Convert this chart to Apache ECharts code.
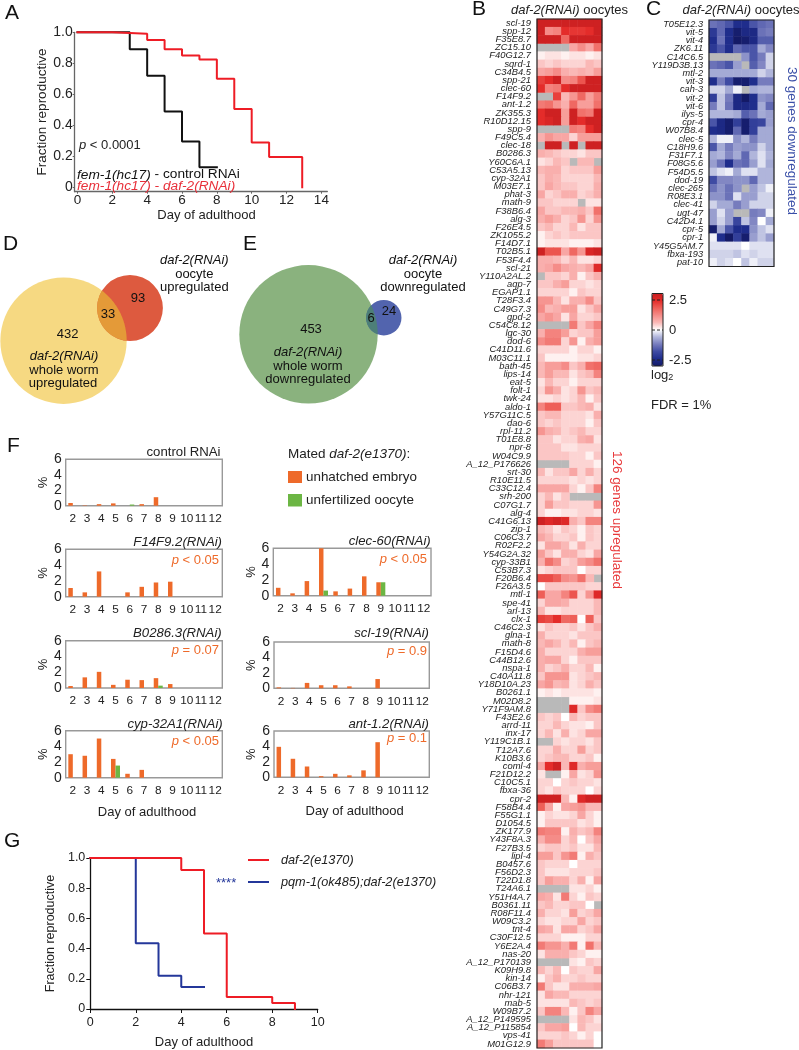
<!DOCTYPE html>
<html><head><meta charset="utf-8">
<style>html,body{margin:0;padding:0;background:#fff}#c{width:799px;height:1050px}</style>
<script src="https://cdn.jsdelivr.net/npm/echarts@6/dist/echarts.min.js"></script>
</head><body><div id="c"></div>
<script>
const n = null;
// ---------- Panel A ----------
const aControlDay = [0, 2, 3, 4, 5, 6, 7, 8];
const aControlFrac = [1, 1, 0.89, 0.72, 0.49, 0.295, 0.13, 0.13];
const aDaf2Day = [0, 2, 4, 5, 6, 7, 8, 9, 10, 11, 12.9];
const aDaf2Frac = [1, 0.99, 0.95, 0.89, 0.85, 0.825, 0.70, 0.505, 0.29, 0.195, 0];
// ---------- Panel G ----------
const gDaf2Day = [0, 4, 5, 6, 8, 9];
const gDaf2Frac = [1, 0.92, 0.50, 0.08, 0.04, 0];
const gPqmDay = [0, 2, 3, 4, 5];
const gPqmFrac = [1, 0.435, 0.22, 0.145, 0.145];
// ---------- Panels D, E (gene counts) ----------
const vennD = { wholeOnly: 432, both: 33, oocyteOnly: 93 };
const vennE = { wholeOnly: 453, both: 6, oocyteOnly: 24 };
// ---------- Panel F ----------
const fDays = ['2','3','4','5','6','7','8','9','10','11','12'];
const fControlEmbryo = [0.35,0.05,0.2,0.3,0,0.2,1.1,0,0,0,0];
const fControlOocyte = [0,0,0,0,0.15,0,0,0,0,0,0];
const fF14Embryo = [1.1,0.55,3.2,0,0.55,1.25,1.8,1.9,0,0,0];
const fF14Oocyte = [0,0,0,0,0,0,0,0,0,0,0];
const fClecEmbryo = [1.0,0.3,1.85,6,0.55,0.9,2.45,1.7,0,0,0];
const fClecOocyte = [0,0,0,0.65,0,0,0,1.7,0,0,0];
const fB0286Embryo = [0.25,1.35,2.05,0.4,1.05,1.0,1.25,0.5,0,0,0];
const fB0286Oocyte = [0,0,0,0,0,0,0.3,0,0,0,0];
const fSclEmbryo = [0.12,0.05,0.7,0.4,0.4,0.25,0,1.2,0,0,0];
const fSclOocyte = [0,0,0,0,0,0,0,0,0,0,0];
const fCypEmbryo = [3.0,2.8,5.0,2.4,0.5,1.0,0,0,0,0,0];
const fCypOocyte = [0,0,0,1.55,0,0,0,0,0,0,0];
const fAntEmbryo = [3.95,2.4,1.4,0.15,0.45,0.25,0.9,4.55,0,0,0];
const fAntOocyte = [0,0,0,0,0,0,0,0,0,0,0];
// ---------- Panel B ----------
const genesB = ['scl-19','spp-12','F35E8.7','ZC15.10','F40G12.7','sqrd-1','C34B4.5','spp-21','clec-60','F14F9.2','ant-1.2','ZK355.3','R10D12.15','spp-9','F49C5.4','clec-18','B0286.3','Y60C6A.1','C53A5.13','cyp-32A1','M03E7.1','phat-3','math-9','F38B6.4','alg-3','F26E4.5','ZK1055.2','F14D7.1','T02B5.1','F53F4.4','scl-21','Y110A2AL.2','aqp-7','EGAP1.1','T28F3.4','C49G7.3','gpd-2','C54C8.12','lgc-30','dod-6','C41D11.6','M03C11.1','bath-45','lips-14','eat-5','folt-1','twk-24','aldo-1','Y57G11C.5','dao-6','rpl-11.2','T01E8.8','npr-8','W04C9.9','A_12_P176626','srt-30','R10E11.5','C33C12.4','srh-200','C07G1.7','alg-4','C41G6.13','zip-1','C06C3.7','R02F2.2','Y54G2A.32','cyp-33B1','C53B7.3','F20B6.4','F26A3.5','mtl-1','spe-41','arl-13','clx-1','C46C2.3','glna-1','math-8','F15D4.6','C44B12.6','nspa-1','C40A11.8','Y18D10A.23','B0261.1','M02D8.2','Y71F9AM.8','F43E2.6','arrd-11','inx-17','Y119C1B.1','T12A7.6','K10B3.6','coml-4','F21D12.2','C10C5.1','fbxa-36','cpr-2','F58B4.4','F55G1.1','D1054.5','ZK177.9','Y43F8A.3','F27B3.5','lipl-4','B0457.6','F56D2.3','T22D1.8','T24A6.1','Y51H4A.7','B0361.11','R08F11.4','W09C3.2','tnt-4','C30F12.5','Y6E2A.4','nas-20','A_12_P170139','K09H9.8','kin-14','C06B3.7','nhr-121','mab-5','W09B7.2','A_12_P149595','A_12_P115854','vps-41','M01G12.9'];
// log2 ratio x 10, one row per gene, n = no data (grey)
const heatB = [
[24,24,24,24,24,24,24,24],[24,10,11,20,19,19,20,24],[24,24,24,14,24,24,24,24],[n,n,n,n,7,10,7,13],
[1,2,2,1,2,2,1,2],[4,3,4,3,3,3,5,4],[7,8,10,6,5,6,5,8],[18,20,24,10,11,16,24,24],
[20,11,12,20,24,24,24,24],[n,n,18,5,9,14,8,12],[12,13,9,6,14,8,8,13],[20,24,24,8,24,13,12,24],
[20,22,24,8,24,20,24,24],[n,n,n,n,12,11,20,24],[6,9,7,7,3,8,8,8],[n,24,24,n,24,n,24,24],
[6,5,4,3,3,2,4,4],[2,3,5,4,n,5,5,n],[5,6,6,3,4,4,4,8],[4,6,5,3,3,3,3,5],
[4,7,5,4,4,3,3,6],[7,3,4,6,6,3,4,6],[4,4,3,3,3,n,2,2],[7,4,4,5,5,6,4,13],
[6,8,6,3,4,9,3,9],[4,5,3,3,5,2,4,4],[1,3,4,3,4,4,4,4],[1,2,2,2,1,1,1,2],
[24,16,16,7,14,9,22,24],[6,6,5,3,5,2,2,3],[6,7,10,7,6,5,7,21],[n,4,4,3,6,1,4,6],
[4,4,6,8,3,3,2,3],[3,3,3,3,1,4,3,3],[9,9,5,2,6,6,10,4],[10,5,6,8,8,2,4,7],
[7,9,7,2,7,3,3,4],[n,n,n,n,12,4,7,11],[6,11,11,8,3,4,4,8],[10,12,12,3,9,1,6,8],
[3,3,3,3,1,3,3,1],[4,1,1,1,1,2,2,3],[5,8,8,10,4,6,13,14],[5,8,5,5,2,4,5,11],
[2,5,3,3,1,3,3,3],[3,9,6,2,3,9,4,5],[2,2,3,2,3,5,1,4],[11,15,15,4,4,5,6,2],
[4,5,5,3,3,3,2,6],[4,3,4,3,3,3,1,4],[9,6,5,3,4,5,3,3],[4,4,2,3,3,6,7,2],
[4,4,4,2,2,3,3,3],[4,4,4,4,3,3,1,4],[n,n,n,n,3,3,3,1],[5,2,4,4,7,3,6,3],
[3,3,3,3,2,3,2,3],[7,7,7,7,3,1,4,11],[3,5,2,4,n,n,n,n],[3,8,4,4,3,3,3,9],
[3,1,1,2,2,3,3,2],[24,21,23,21,6,4,11,11],[5,4,2,4,3,1,4,3],[7,5,3,3,4,1,4,3],
[2,7,7,5,2,6,3,3],[8,4,2,6,6,3,2,7],[6,13,10,3,4,8,10,13],[2,3,4,4,4,0,3,3],
[17,17,15,10,9,13,5,n],[0,4,4,4,4,4,3,3],[15,7,7,11,16,3,9,21],[3,7,7,6,3,3,3,5],
[5,2,2,3,3,3,3,5],[18,17,20,14,15,0,15,4],[2,4,3,3,4,2,4,6],[6,3,3,3,2,4,4,4],
[5,7,5,3,5,1,4,5],[6,3,3,3,3,6,8,8],[6,7,7,3,1,4,4,4],[6,3,4,6,3,3,5,1],
[4,9,9,9,2,3,4,5],[7,9,5,6,2,3,6,4],[1,2,1,2,2,2,2,1],[n,n,n,n,1,1,1,2],
[n,n,n,n,21,4,10,12],[4,3,4,0,5,3,4,4],[3,3,5,3,2,2,1,4],[3,5,2,6,2,3,7,7],
[n,n,3,2,3,3,2,4],[3,3,6,3,3,8,3,4],[3,4,5,5,3,3,4,1],[7,20,24,5,21,6,8,8],
[2,n,n,1,7,2,3,9],[3,3,0,3,4,3,3,2],[3,2,4,3,3,3,0,3],[24,24,24,5,1,21,24,24],
[15,7,1,7,8,9,5,5],[1,3,2,2,3,7,3,1],[1,4,4,4,4,2,3,1],[12,11,11,1,6,4,5,11],
[6,10,10,3,5,0,4,7],[3,4,4,3,4,2,2,5],[8,8,4,9,12,1,6,4],[4,3,3,3,0,3,3,3],
[4,2,2,2,3,3,3,4],[4,8,6,6,3,6,1,7],[n,n,n,n,2,2,3,1],[7,6,2,12,3,1,4,3],
[4,5,3,3,4,4,0,n],[6,3,3,2,8,3,4,7],[3,2,2,3,3,7,3,4],[7,6,2,7,7,3,4,7],
[3,3,3,1,1,1,3,3],[12,9,9,6,12,1,13,5],[2,6,6,6,4,3,1,1],[n,n,n,n,2,1,4,3],
[5,3,5,0,4,3,3,7],[1,4,6,3,3,4,3,3],[12,4,2,2,6,6,6,7],[2,7,5,5,3,3,3,3],
[2,2,2,2,5,4,3,4],[4,11,11,5,1,4,11,7],[n,n,n,n,2,5,4,2],[4,7,7,8,0,5,3,3],
[3,3,3,4,3,1,3,0],[12,8,4,4,4,4,4,0]
];
// ---------- Panel C ----------
const genesC = ['T05E12.3','vit-5','vit-4','ZK6.11','C14C6.5','Y119D3B.13','mtl-2','vit-3','cah-3','vit-2','vit-6','ilys-5','cpr-4','W07B8.4','clec-5','C18H9.6','F31F7.1','F08G5.6','F54D5.5','dod-19','clec-265','R08E3.1','clec-41','ugt-47','C42D4.1','cpr-5','cpr-1','Y45G5AM.7','fbxa-193','pat-10'];
// -log2 ratio x 10
const heatC = [
[11,12,14,20,20,14,12,11],[18,12,20,24,21,21,11,10],[20,11,20,25,24,21,13,13],[18,14,20,12,14,14,6,9],
[n,n,n,n,8,14,10,3],[11,12,14,7,n,13,9,3],[6,6,6,6,6,6,3,5],[20,10,15,24,24,20,10,10],
[3,3,6,1,n,6,5,5],[17,4,10,21,25,20,8,9],[10,4,11,21,21,20,6,12],[5,5,5,6,13,11,6,7],
[14,21,24,17,24,17,16,7],[20,21,24,12,24,17,6,6],[5,1,1,8,5,10,6,6],[14,6,10,7,8,8,3,6],
[6,5,9,6,12,5,2,5],[7,11,20,11,12,7,2,6],[4,2,1,6,2,2,5,5],[15,9,9,8,8,12,5,5],
[11,8,11,8,n,7,4,1],[8,8,11,2,7,7,3,3],[3,6,6,10,7,3,3,3],[7,2,7,n,n,10,9,1],
[7,3,7,16,4,9,0,6],[24,6,14,20,20,8,4,2],[1,20,25,17,24,7,4,7],[2,2,2,2,0,2,2,2],
[3,3,3,4,2,3,2,2],[1,3,2,0,4,1,3,3]
];
const heatColumns = ['1','2','3','4','5','6','7','8'];

const FONT = '"Liberation Sans", Arial, sans-serif';
const INK = '#222';
const ORANGE = '#ee6a2a', GREEN = '#6cb644', RED = '#ee1c25', NAVY = '#24379a';
const grid = [], xAxis = [], yAxis = [], series = [], graphic = [];

function T(x, y, text, o) {
  o = o || {};
  const size = o.size || 13;
  const base = (o.italic ? 'italic ' : '') + size + 'px ' + FONT;
  const style = { text, fill: o.color || INK, font: base,
    textAlign: o.align || 'left', align: o.align || 'left', textVerticalAlign: 'middle', verticalAlign: 'middle' };
  style.rich = { i: { fontStyle: 'italic', fontSize: size, fontFamily: FONT, fill: o.color || INK, textFill: o.color || INK },
    s: { fontSize: 9, fontFamily: FONT, fill: INK, verticalAlign: 'bottom', padding: [6, 0, 0, 0] } };
  graphic.push({ type: 'text', x, y, rotation: o.rot || 0, z: 50, silent: true, style });
}
function addGrid(left, top, right, bottom, x, y, extra) {
  grid.push(Object.assign({ left, top, width: right - left, height: bottom - top, containLabel: false }, extra || {}));
  xAxis.push(Object.assign({ gridIndex: grid.length - 1 }, x));
  yAxis.push(Object.assign({ gridIndex: grid.length - 1 }, y));
  return grid.length - 1;
}
function zip(a, b) { return a.map((v, i) => [v, b[i]]); }
function stepLine(gi, name, days, frac, color, w) {
  series.push({ type: 'line', name, xAxisIndex: gi, yAxisIndex: gi, data: zip(days, frac), step: 'end',
    symbol: 'none', clip: false, lineStyle: { color, width: w || 2, cap: 'square' } });
}

// ---- heatmaps -----
function addHeat(left, top, right, bottom, labels, rows, sign, labelSize, margin) {
  const gi = addGrid(left, top, right, bottom,
    { type: 'category', data: heatColumns, show: false },
    { type: 'category', data: labels, inverse: true,
      axisLine: { show: false }, axisTick: { show: false },
      axisLabel: { interval: 0, fontSize: labelSize, fontStyle: 'italic', fontFamily: FONT, color: INK, margin } });
  const vals = [], miss = [];
  rows.forEach((r, yi) => r.forEach((v, xi) => {
    if (v === null) miss.push([xi, yi, 0]); else vals.push([xi, yi, sign * v / 10]);
  }));
  series.push({ type: 'heatmap', name: 'missing', xAxisIndex: gi, yAxisIndex: gi, data: miss, itemStyle: { color: '#b9b9b9' } });
  series.push({ type: 'heatmap', name: 'log2', xAxisIndex: gi, yAxisIndex: gi, data: vals });
  graphic.push({ type: 'rect', z: 40, silent: true, shape: { x: left, y: top, width: right - left, height: bottom - top },
    style: { fill: 'none', stroke: '#222', lineWidth: 1.2 } });
  return series.length - 1;
}
const sB = addHeat(537, 19, 602, 1048, genesB, heatB, 1, 9.4, 6);
const sC = addHeat(709, 20, 774, 266.5, genesC, heatC, -1, 9.2, 6);

// ---- A -----
const gA = addGrid(74.7, 32.3, 327.3, 191.7,
  { type: 'value', min: -0.16, max: 14.34, splitLine: { show: false },
    axisLine: { onZero: false, lineStyle: { color: '#666', width: 1.3 } },
    axisTick: { length: 2, lineStyle: { color: '#666' }, customValues: [0,2,4,6,8,10,12,14] },
    axisLabel: { customValues: [0,2,4,6,8,10,12,14], fontSize: 13.5, color: INK, fontFamily: FONT, margin: 2 },
    name: 'Day of adulthood', nameLocation: 'middle', nameGap: 14,
    nameTextStyle: { fontSize: 13, color: INK, fontFamily: FONT, padding: [0, 0, 0, 11] } },
  { type: 'value', min: -0.028, max: 1, splitLine: { show: false },
    axisLine: { show: true, onZero: false, lineStyle: { color: '#666', width: 1.3 } },
    axisTick: { length: 2, lineStyle: { color: '#666' }, customValues: [0,0.2,0.4,0.6,0.8,1] },
    axisLabel: { customValues: [0,0.2,0.4,0.6,0.8,1], fontSize: 14, color: INK, fontFamily: FONT, margin: 2,
      formatter: v => v === 0 ? '0' : v.toFixed(1) },
    name: 'Fraction reproductive', nameLocation: 'middle', nameGap: 21,
    nameTextStyle: { fontSize: 13.5, color: INK, fontFamily: FONT } });
stepLine(gA, 'fem-1(hc17) - control RNAi', aControlDay, aControlFrac, '#111');
stepLine(gA, 'fem-1(hc17) - daf-2(RNAi)', aDaf2Day, aDaf2Frac, RED);

// ---- G -----
const gG = addGrid(90.3, 858, 317.7, 1009,
  { type: 'value', min: 0, max: 10, interval: 2, splitLine: { show: false },
    axisLine: { lineStyle: { color: '#111', width: 1.3 } },
    axisTick: { length: 4, lineStyle: { color: '#111' } },
    axisLabel: { fontSize: 12.5, color: INK, fontFamily: FONT, margin: 7 },
    name: 'Day of adulthood', nameLocation: 'middle', nameGap: 27,
    nameTextStyle: { fontSize: 13, color: INK, fontFamily: FONT } },
  { type: 'value', min: 0, max: 1, interval: 0.2, splitLine: { show: false },
    axisLine: { show: true, lineStyle: { color: '#111', width: 1.3 } },
    axisTick: { length: 4, lineStyle: { color: '#111' } },
    axisLabel: { fontSize: 12.5, color: INK, fontFamily: FONT, margin: 5,
      formatter: v => v === 0 ? '0' : v.toFixed(1) },
    name: 'Fraction reproductive', nameLocation: 'middle', nameGap: 33,
    nameTextStyle: { fontSize: 12.5, color: INK, fontFamily: FONT } });
stepLine(gG, 'pqm-1(ok485);daf-2(e1370)', gPqmDay, gPqmFrac, NAVY);
stepLine(gG, 'daf-2(e1370)', gDaf2Day, gDaf2Frac, RED);

// ---- F -----
function addBars(left, top, right, bottom, embryo, oocyte, bottomRow, nameGapY) {
  const gi = addGrid(left, top, right, bottom,
    Object.assign({ type: 'category', data: fDays, axisLine: { show: false }, axisTick: { show: false },
      axisLabel: { interval: 0, fontSize: 11.8, color: INK, fontFamily: FONT, margin: 7 } },
      bottomRow ? { name: 'Day of adulthood', nameLocation: 'middle', nameGap: 28,
        nameTextStyle: { fontSize: 13, color: INK, fontFamily: FONT, padding: [0, 0, 0, 6] } } : {}),
    { type: 'value', min: 0, max: 6, interval: 2, splitLine: { show: false },
      axisLine: { show: false }, axisTick: { show: false },
      axisLabel: { fontSize: 14, color: INK, fontFamily: FONT, margin: 4 },
      name: '%', nameLocation: 'middle', nameGap: nameGapY, nameRotate: 90,
      nameTextStyle: { fontSize: 13, color: INK, fontFamily: FONT } },
    { show: true, borderColor: '#999', borderWidth: 1.4 });
  series.push({ type: 'bar', name: 'unhatched embryo', xAxisIndex: gi, yAxisIndex: gi, data: embryo,
    barWidth: 4.5, barGap: 0, itemStyle: { color: ORANGE } });
  series.push({ type: 'bar', name: 'unfertilized oocyte', xAxisIndex: gi, yAxisIndex: gi, data: oocyte,
    barWidth: 4.5, barGap: 0, itemStyle: { color: GREEN } });
}
addBars(65.7, 459.3, 222.3, 505.7, fControlEmbryo, fControlOocyte, false, 16);
addBars(65.7, 549.3, 222.3, 596.7, fF14Embryo, fF14Oocyte, false, 16);
addBars(273.3, 548.3, 431, 595.7, fClecEmbryo, fClecOocyte, false, 15);
addBars(65.7, 640.7, 222.3, 688, fB0286Embryo, fB0286Oocyte, false, 16);
addBars(274, 642, 429.3, 688.3, fSclEmbryo, fSclOocyte, false, 16);
addBars(65.7, 730.7, 222.3, 777.7, fCypEmbryo, fCypOocyte, true, 16);
addBars(274, 731, 429.3, 777.3, fAntEmbryo, fAntOocyte, true, 16);

// ---- Venn D, E: circle area follows gene count -----
function lens(a, b) {
  const dx = b.x - a.x, dy = b.y - a.y, d = Math.hypot(dx, dy), th = Math.atan2(dy, dx);
  const a1 = Math.acos((d * d + a.r * a.r - b.r * b.r) / (2 * d * a.r));
  const a2 = Math.acos((d * d + b.r * b.r - a.r * a.r) / (2 * d * b.r));
  const pts = [], N = 40;
  for (let i = 0; i <= N; i++) { const t = th - a1 + 2 * a1 * i / N; pts.push([a.x + a.r * Math.cos(t), a.y + a.r * Math.sin(t)]); }
  for (let i = 0; i <= N; i++) { const t = th + Math.PI - a2 + 2 * a2 * i / N; pts.push([b.x + b.r * Math.cos(t), b.y + b.r * Math.sin(t)]); }
  return pts;
}
function venn(counts, k, posA, posB, colA, colB, colAB) {
  const A = { x: posA[0], y: posA[1], r: k * Math.sqrt(counts.wholeOnly + counts.both) };
  const B = { x: posB[0], y: posB[1], r: k * Math.sqrt(counts.oocyteOnly + counts.both) };
  series.push({ type: 'custom', coordinateSystem: 'none', silent: true, data: [[counts.wholeOnly, counts.both, counts.oocyteOnly]],
    renderItem: () => ({ type: 'group', children: [
      { type: 'circle', shape: { cx: A.x, cy: A.y, r: A.r }, style: { fill: colA } },
      { type: 'circle', shape: { cx: B.x, cy: B.y, r: B.r }, style: { fill: colB } },
      { type: 'polygon', shape: { points: lens(A, B) }, style: { fill: colAB } } ] }) });
}
venn(vennD, 2.93, [63.5, 340.7], [130, 308], '#f6d982', '#dd5a3f', '#e49a38');
venn(vennE, 3.23, [308.5, 334.3], [383.8, 317.7], '#8ab27e', '#5264ae', '#4d7f78');

T(67.7, 334, String(vennD.wholeOnly), { align: 'center', color: '#111' });
T(108, 314, String(vennD.both), { align: 'center', color: '#111' });
T(138, 298, String(vennD.oocyteOnly), { align: 'center', color: '#111' });
T(64, 356.7, 'daf-2(RNAi)', { align: 'center', italic: true, color: '#111' });
T(64, 370, 'whole worm', { align: 'center', color: '#111' });
T(63, 383, 'upregulated', { align: 'center', color: '#111' });
T(194.3, 260.7, 'daf-2(RNAi)', { align: 'center', italic: true, color: '#111' });
T(194.3, 274, 'oocyte', { align: 'center', color: '#111' });
T(194.3, 287, 'upregulated', { align: 'center', color: '#111' });
T(311, 329, String(vennE.wholeOnly), { align: 'center', color: '#111' });
T(371, 318.7, String(vennE.both), { align: 'center', color: '#111' });
T(389, 311.7, String(vennE.oocyteOnly), { align: 'center', color: '#111' });
T(308, 352.7, 'daf-2(RNAi)', { align: 'center', italic: true, color: '#111' });
T(308, 366, 'whole worm', { align: 'center', color: '#111' });
T(308, 379, 'downregulated', { align: 'center', color: '#111' });
T(423, 260.7, 'daf-2(RNAi)', { align: 'center', italic: true, color: '#111' });
T(423, 274, 'oocyte', { align: 'center', color: '#111' });
T(423, 287, 'downregulated', { align: 'center', color: '#111' });

// ---- panel letters -----
[['A',5,13],['B',472,9],['C',646,9],['D',3,244],['E',243,244],['F',7,446],['G',4,841]].forEach(l => T(l[1], l[2], l[0], { size: 21, color: '#111' }));

// ---- A notes -----
T(79, 145.7, '{i|p} < 0.0001', { size: 13 });
T(77, 174.7, '{i|fem-1(hc17)} - control RNAi', { size: 13.7, color: '#111' });
T(77, 186, 'fem-1(hc17) - daf-2(RNAi)', { size: 13.7, italic: true, color: '#e8303a' });

// ---- titles of heatmaps -----
T(569.5, 10, '{i|daf-2(RNAi)} oocytes', { size: 13, align: 'center' });
T(741, 10, '{i|daf-2(RNAi)} oocytes', { size: 13, align: 'center' });
T(617, 520, '126 genes upregulated', { size: 13.5, align: 'center', color: '#e8383a', rot: -Math.PI / 2 });
T(792, 141, '30 genes downregulated', { size: 13.5, align: 'center', color: '#3a4fa8', rot: -Math.PI / 2 });

// ---- colour bar annotations -----
graphic.push({ type: 'rect', z: 45, silent: true, shape: { x: 652, y: 293.5, width: 11, height: 72.5 }, style: { fill: 'none', stroke: '#222', lineWidth: 1 } });
[300, 330, 360].forEach(y => graphic.push({ type: 'line', z: 45, silent: true, shape: { x1: 652, y1: y, x2: 663, y2: y }, style: { stroke: '#222', lineWidth: 1, lineDash: [3, 2] } }));
T(669, 300, '2.5'); T(669, 330, '0'); T(669, 360, '-2.5');
T(651, 375, 'log{s|2}');
T(651, 405, 'FDR = 1%');

// ---- F legend & labels -----
T(288, 454, 'Mated {i|daf-2(e1370)}:', { size: 13.5 });
graphic.push({ type: 'rect', z: 45, silent: true, shape: { x: 288, y: 471, width: 14, height: 12 }, style: { fill: ORANGE } });
graphic.push({ type: 'rect', z: 45, silent: true, shape: { x: 288, y: 494, width: 14, height: 12.5 }, style: { fill: GREEN } });
T(306, 477, 'unhatched embryo', { size: 13.4 });
T(306, 500, 'unfertilized oocyte', { size: 13.4 });
[['control RNAi',220.5,452,false],['F14F9.2(RNAi)',222,542,true],['clec-60(RNAi)',430.7,541.7,true],
 ['B0286.3(RNAi)',221.7,633,true],['scl-19(RNAi)',429,633,true],['cyp-32A1(RNAi)',222.7,724,true],['ant-1.2(RNAi)',429,724,true]]
  .forEach(t => T(t[1], t[2], t[0], { align: 'right', italic: t[3], size: 13.2 }));
[['{i|p} < 0.05',219,560],['{i|p} < 0.05',427,559],['{i|p} = 0.07',219,650.7],['{i|p} < 0.05',219,741],['{i|p} = 0.9',427,651],['{i|p} = 0.1',427,738]]
  .forEach(t => T(t[1], t[2], t[0], { align: 'right', size: 13, color: ORANGE }));

// ---- G legend -----
graphic.push({ type: 'line', z: 45, silent: true, shape: { x1: 248, y1: 860, x2: 269, y2: 860 }, style: { stroke: RED, lineWidth: 2 } });
graphic.push({ type: 'line', z: 45, silent: true, shape: { x1: 248, y1: 882, x2: 269, y2: 882 }, style: { stroke: NAVY, lineWidth: 2 } });
T(281, 860, 'daf-2(e1370)', { italic: true, size: 12.7 });
T(281, 882, 'pqm-1(ok485);daf-2(e1370)', { italic: true, size: 12.7 });
T(216, 883, '****', { size: 13, color: NAVY });

const chart = echarts.init(document.getElementById('c'), null, { renderer: 'canvas', width: 799, height: 1050 });
chart.setOption({
  animation: false, backgroundColor: '#fff', textStyle: { fontFamily: FONT },
  grid, xAxis, yAxis, series, graphic,
  visualMap: [{ type: 'continuous', seriesIndex: [sB, sC], min: -2.5, max: 2.5, calculable: false, show: true,
    left: 652, top: 293.5, padding: 0, itemWidth: 11, itemHeight: 72.5, showLabel: false, realtime: false, hoverLink: false,
    inRange: { color: ['#141a66','#1f2d8c','#3f4ba3','#767cbd','#b0b5db','#ffffff','#fab8b6','#f58c88','#ee5f58','#e42c2a','#c81e20'] } }]
});
</script></body></html>
